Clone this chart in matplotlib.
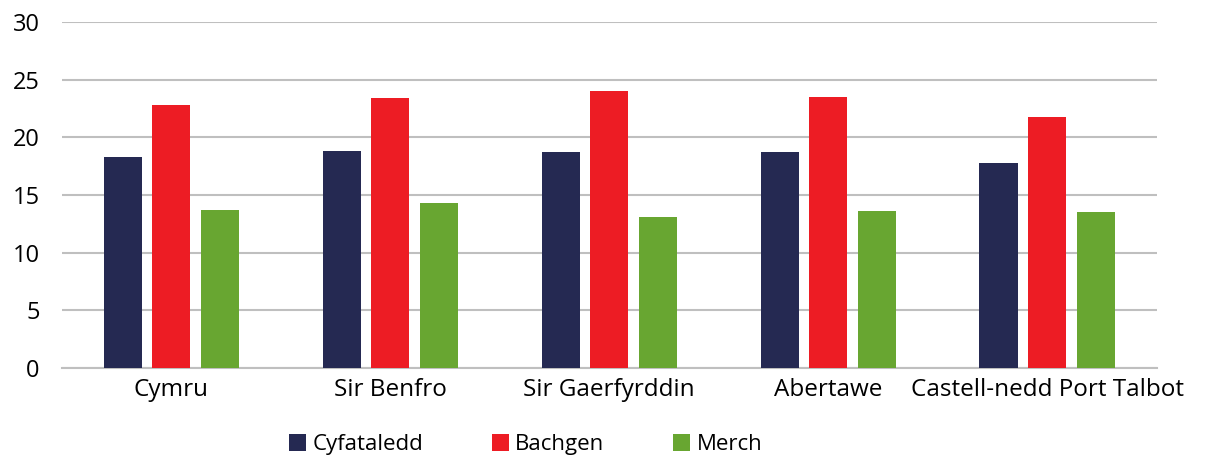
import matplotlib
matplotlib.use('Agg')
import matplotlib.pyplot as plt
import numpy as np

# ── Data ──────────────────────────────────────────────────────────────────────
categories = ["Cymru", "Sir Benfro", "Sir Gaerfyrddin", "Abertawe",
              "Castell-nedd Port Talbot"]
cyfataledd = [18.3, 18.8, 18.7, 18.7, 17.8]
bachgen = [22.8, 23.4, 24.0, 23.5, 21.8]
merch = [13.7, 14.3, 13.1, 13.6, 13.5]

series_names = ["Cyfataledd", "Bachgen", "Merch"]
colors = ["#252952", "#ED1C24", "#68A631"]

plt.rcParams['font.family'] = ['Open Sans', 'DejaVu Sans']

fig = plt.figure(figsize=(12.06, 4.61), dpi=100)
ax = fig.add_axes([0.0514, 0.2017, 0.9076, 0.7503])

x = np.arange(len(categories))
bar_w = 0.174
step = 0.222
for k, (vals, name, c) in enumerate(zip([cyfataledd, bachgen, merch],
                                        series_names, colors)):
    ax.bar(x + (k - 1) * step, vals, width=bar_w, color=c, label=name,
           zorder=3)

ax.set_xlim(-0.5, len(categories) - 0.5)
ax.set_ylim(0, 30)
ax.set_yticks(range(0, 31, 5))
ax.set_xticks(x)
ax.set_xticklabels(categories, fontsize=17.5)
ax.tick_params(axis='y', labelsize=17, length=0, pad=16)
ax.tick_params(axis='x', length=0, pad=7)

ax.grid(axis='y', color='#BFBFBF', linewidth=1.5, zorder=0)
for side in ['left', 'right', 'top']:
    ax.spines[side].set_visible(False)
ax.spines['bottom'].set_color('#BFBFBF')
ax.spines['bottom'].set_linewidth(1.5)

fig.legend(loc='center', bbox_to_anchor=(0.436, 0.035), ncol=3,
           frameon=False, fontsize=16, handlelength=0.75, handleheight=0.8,
           handletextpad=0.3, columnspacing=3.1)

fig.savefig('out.png', dpi=100, facecolor='white')
